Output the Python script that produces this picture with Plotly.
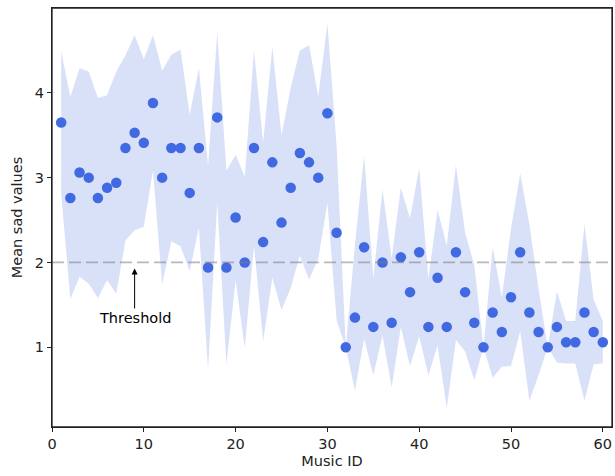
import plotly.graph_objects as go

music_id = list(range(1, 61))
mean_sad = [3.65, 2.76, 3.06, 3.00, 2.76, 2.88, 2.94, 3.35, 3.53, 3.41,
            3.88, 3.00, 3.35, 3.35, 2.82, 3.35, 1.94, 3.71, 1.94, 2.53,
            2.00, 3.35, 2.24, 3.18, 2.47, 2.88, 3.29, 3.18, 3.00, 3.76,
            2.35, 1.00, 1.35, 2.18, 1.24, 2.00, 1.29, 2.06, 1.65, 2.12,
            1.24, 1.82, 1.24, 2.12, 1.65, 1.29, 1.00, 1.41, 1.18, 1.59,
            2.12, 1.41, 1.18, 1.00, 1.24, 1.06, 1.06, 1.41, 1.18, 1.06]
std_sad = [0.84, 1.19, 1.23, 1.25, 1.18, 1.09, 1.31, 1.09, 1.15, 0.99,
           0.80, 1.26, 1.10, 1.16, 0.92, 0.94, 1.20, 1.00, 1.14, 0.74,
           1.01, 1.15, 1.17, 1.36, 1.03, 1.18, 1.21, 1.38, 0.96, 1.06,
           1.03, 0.00, 0.86, 1.08, 0.57, 0.86, 0.76, 0.82, 0.87, 0.99,
           0.57, 0.80, 0.96, 1.03, 0.70, 0.68, 0.00, 0.77, 0.41, 0.81,
           0.93, 1.04, 0.51, 0.00, 0.42, 0.25, 0.25, 1.04, 0.38, 0.25]
threshold = 2.0
x_ticks = [0, 10, 20, 30, 40, 50, 60]
y_ticks = [1, 2, 3, 4]

upper = [m + s for m, s in zip(mean_sad, std_sad)]
lower = [m - s for m, s in zip(mean_sad, std_sad)]

fig = go.Figure()
fig.add_trace(go.Scatter(x=music_id, y=upper, mode="lines",
                         line=dict(width=0, color="rgba(65,105,225,0)"),
                         showlegend=False, hoverinfo="skip"))
fig.add_trace(go.Scatter(x=music_id, y=lower, mode="lines",
                         line=dict(width=0, color="rgba(65,105,225,0)"),
                         fill="tonexty", fillcolor="rgba(65,105,225,0.2)",
                         showlegend=False, hoverinfo="skip"))
fig.add_trace(go.Scatter(x=music_id, y=mean_sad, mode="markers",
                         marker=dict(size=10.5, color="royalblue"),
                         showlegend=False))

fig.add_hline(y=threshold, line=dict(color="rgba(128,128,128,0.55)", width=1.8,
                                     dash="12px,5px"))

fig.add_annotation(x=9, y=1.93, ax=9, ay=1.345, xref="x", yref="y",
                   axref="x", ayref="y", text="Threshold", showarrow=True,
                   arrowhead=2, arrowsize=1.2, arrowwidth=1, arrowcolor="black",
                   font=dict(family="DejaVu Sans", size=14.5, color="black"))

# full frame around the plot area (matplotlib-style spines)
fig.add_shape(type="rect", xref="paper", yref="paper", x0=0, y0=0, x1=1, y1=1,
              line=dict(color="#222", width=1.3), layer="above")

axis_common = dict(showline=True, linecolor="#222", linewidth=1, mirror=True,
                   ticks="outside", ticklen=4, tickcolor="#222", showgrid=False,
                   zeroline=False, automargin=False,
                   tickfont=dict(family="DejaVu Sans", size=14.5, color="#222"),
                   title_font=dict(family="DejaVu Sans", size=14.5, color="#222"))

fig.update_xaxes(range=[0, 61], tickvals=x_ticks, title_text="Music ID",
                 title_standoff=4, **axis_common)
fig.update_yaxes(range=[0.06, 5.0], tickvals=y_ticks, title_text="Mean sad values",
                 title_standoff=8, **axis_common)

fig.update_layout(width=615, height=476, plot_bgcolor="white", paper_bgcolor="white",
                  margin=dict(l=52, r=3, t=8, b=49))

# remove the browser's default 8px body margin so the figure fills the window
fig.write_html("out.html", config={"displayModeBar": False},
               post_script="document.body.style.margin='0';"
                           "document.body.style.overflow='hidden';")
